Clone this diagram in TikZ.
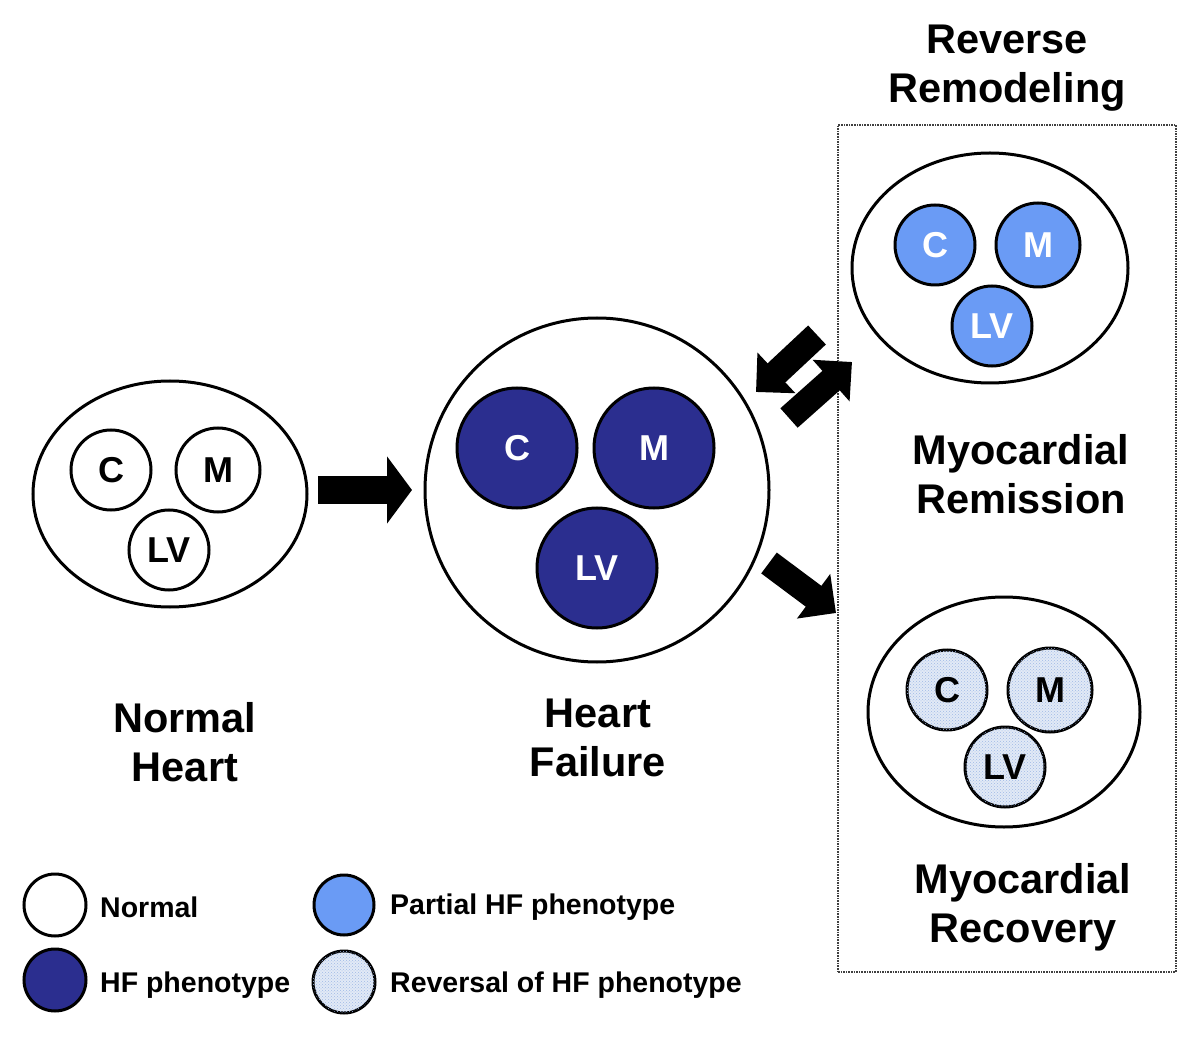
\documentclass[tikz,border=0pt]{standalone}
\usepackage{fontspec}
\setmainfont{Liberation Sans}
\usetikzlibrary{arrows.meta,patterns,shapes.geometric}
\definecolor{hfblue}{HTML}{2B2E8F}
\definecolor{partblue}{HTML}{6A9BF5}
\definecolor{revfill}{HTML}{E2EAF6}
\definecolor{revdot}{HTML}{9FB8E6}
\begin{document}
\begin{tikzpicture}[x=1pt,y=-1pt,
  heart/.style={ellipse, draw=black, line width=3pt, inner sep=0pt},
  cell/.style={circle, draw=black, line width=3pt, inner sep=0pt, minimum size=#1,
    font=\fontsize{36}{40}\selectfont\bfseries},
  normalcell/.style={cell=#1, fill=white, text=black},
  hfcell/.style={cell=#1, fill=hfblue, text=white},
  partcell/.style={cell=#1, fill=partblue, text=white},
  revcell/.style={cell=#1, fill=revfill, postaction={pattern=crosshatch dots, pattern color=revdot}, text=black},
  biglabel/.style={align=center, font=\fontsize{41.5}{49}\selectfont\bfseries, inner sep=0pt},
  legtext/.style={anchor=base west, font=\fontsize{28.5}{32}\selectfont\bfseries, inner sep=0pt},
  fatarrow/.style={line width=28pt, -{Triangle[length=25pt, width=66pt]}},
  slantarrow/.style={line width=26pt, -{Triangle[length=28pt, width=54pt]}},
]
\useasboundingbox (0,0) rectangle (1200,1040);

% Reverse remodeling box
\node[draw=black!75, densely dotted, line width=1.6pt, minimum width=338pt, minimum height=847pt, inner sep=0pt] (box) at (1007,548.5) {};
\node[biglabel] (rrlab) at (1007,68) {Reverse\\Remodeling};

% Normal heart
\node[heart, minimum width=274pt, minimum height=226pt] (nh) at (170,494) {};
\node[normalcell=80pt] (nC) at (111,470) {C};
\node[normalcell=84pt] (nM) at (218,470) {M};
\node[normalcell=80pt] (nLV) at (169,550) {LV};
\node[biglabel] (nhlab) at (185,742) {Normal\\Heart};

% Heart failure
\node[circle, draw=black, line width=3pt, minimum size=344pt, inner sep=0pt] (hf) at (597,490) {};
\node[hfcell=120pt] (hC) at (517,448) {C};
\node[hfcell=120pt] (hM) at (654,448) {M};
\node[hfcell=120pt] (hLV) at (597,568) {LV};
\node[biglabel] (hflab) at (598,738) {Heart\\Failure};

% Myocardial remission
\node[heart, minimum width=276pt, minimum height=230pt] (rem) at (990,268) {};
\node[partcell=80pt] (rC) at (935,245) {C};
\node[partcell=84pt] (rM) at (1038,245) {M};
\node[partcell=80pt] (rLV) at (992,326) {LV};
\node[biglabel] (remlab) at (1021,474) {Myocardial\\Remission};

% Myocardial recovery
\node[heart, minimum width=272pt, minimum height=230pt] (rec) at (1004,712) {};
\node[revcell=80pt] (cC) at (947,690) {C};
\node[revcell=84pt] (cM) at (1050,690) {M};
\node[revcell=80pt] (cLV) at (1005,767) {LV};
\node[biglabel] (reclab) at (1023,907) {Myocardial\\Recovery};

% Arrows
\coordinate (a1s) at (318,490);
\coordinate (a1e) at (412,490);
\draw[fatarrow] (a1s) -- (a1e);
\coordinate (a2s) at (817,335);
\coordinate (a2e) at (756,392);
\draw[slantarrow] (a2s) -- (a2e);
\coordinate (a3s) at (789,418);
\coordinate (a3e) at (852,362);
\draw[slantarrow] (a3s) -- (a3e);
\coordinate (a4s) at (769,563);
\coordinate (a4e) at (836,613);
\draw[slantarrow] (a4s) -- (a4e);

% Legend
\node[normalcell=62pt] (lgN) at (55,905) {};
\node[legtext] (lgNt) at (100,917) {Normal};
\node[hfcell=62pt] (lgH) at (55,980) {};
\node[legtext] (lgHt) at (100,992) {HF phenotype};
\node[partcell=60pt] (lgP) at (344,905) {};
\node[legtext] (lgPt) at (390,914) {Partial HF phenotype};
\node[revcell=62pt] (lgR) at (344,982) {};
\node[legtext] (lgRt) at (390,992) {Reversal of HF phenotype};
\end{tikzpicture}
\end{document}
